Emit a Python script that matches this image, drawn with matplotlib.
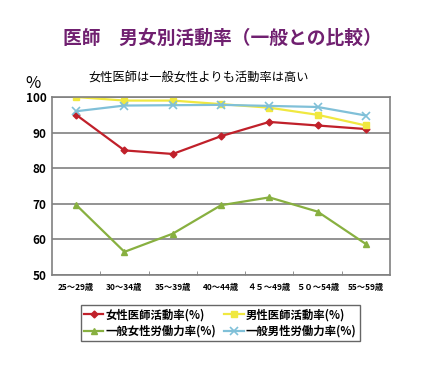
import matplotlib
matplotlib.use("Agg")
import matplotlib.pyplot as plt
import numpy as np

plt.rcParams["font.family"] = ["Noto Sans CJK JP", "DejaVu Sans"]

AGES = ["25～29歳", "30～34歳", "35～39歳", "40～44歳", "４５～49歳", "５０～54歳", "55～59歳"]
FEMALE_DOC = [95, 85, 84, 89, 93, 92, 91]
MALE_DOC = [100, 99, 99, 98, 97, 95, 92]
FEMALE_GEN = [69.7, 56.5, 61.6, 69.6, 71.8, 67.8, 58.7]
MALE_GEN = [96, 97.6, 97.7, 97.8, 97.5, 97.2, 94.8]

fig = plt.figure(figsize=(4.27, 3.70), dpi=100)
ax = fig.add_axes([0.1218, 0.2568, 0.7916, 0.481])

x = np.arange(len(AGES))
h1, = ax.plot(x, FEMALE_DOC, color="#C0202A", marker="D", ms=3.5, lw=1.6, label="女性医師活動率(%)")
h2, = ax.plot(x, MALE_DOC, color="#F0E840", marker="s", ms=5, lw=1.6, label="男性医師活動率(%)")
h3, = ax.plot(x, FEMALE_GEN, color="#88B040", marker="^", ms=5, lw=1.6, label="一般女性労働力率(%)")
h4, = ax.plot(x, MALE_GEN, color="#80C0D8", marker="x", ms=6, mew=1.2, lw=1.6, label="一般男性労働力率(%)")

ax.set_xlim(-0.5, len(AGES) - 0.5)
ax.set_ylim(50, 100)
ax.set_yticks(range(50, 101, 10))
ax.yaxis.grid(True, color="#808080", lw=1.2)
ax.set_axisbelow(True)
for s in ax.spines.values():
    s.set_color("#808080")
    s.set_linewidth(1.2)

ax.set_xticks(x)
ax.set_xticklabels(AGES, fontsize=6, fontweight="bold")
ax.set_xticks(np.arange(0.5, len(AGES) - 1, 1), minor=True)
ax.tick_params(axis="x", which="major", length=0, pad=6)
ax.tick_params(axis="x", which="minor", direction="in", length=3, color="#808080")
ax.tick_params(axis="y", length=0, pad=4, labelsize=8.5)
for t in ax.get_yticklabels():
    t.set_fontweight("bold")

fig.text(0.52, 0.897, "医師　男女別活動率（一般との比較）", ha="center", va="center",
         fontsize=13.5, fontweight="bold", color="#702070")
fig.text(0.466, 0.79, "女性医師は一般女性よりも活動率は高い", ha="center", va="center", fontsize=8.8)
fig.text(0.078, 0.775, "%", ha="center", va="center", fontsize=12)

leg = fig.legend([h1, h3, h2, h4], [h.get_label() for h in (h1, h3, h2, h4)],
                 loc="upper center", bbox_to_anchor=(0.516, 0.192), ncol=2,
                 prop={"weight": "bold", "size": 8.2}, frameon=True, fancybox=False,
                 handlelength=1.7, handletextpad=0.2, columnspacing=0.7,
                 borderpad=0.3, labelspacing=0.3)
leg.get_frame().set_edgecolor("#404040")
leg.get_frame().set_linewidth(1.0)

fig.savefig("out.png", dpi=100)
